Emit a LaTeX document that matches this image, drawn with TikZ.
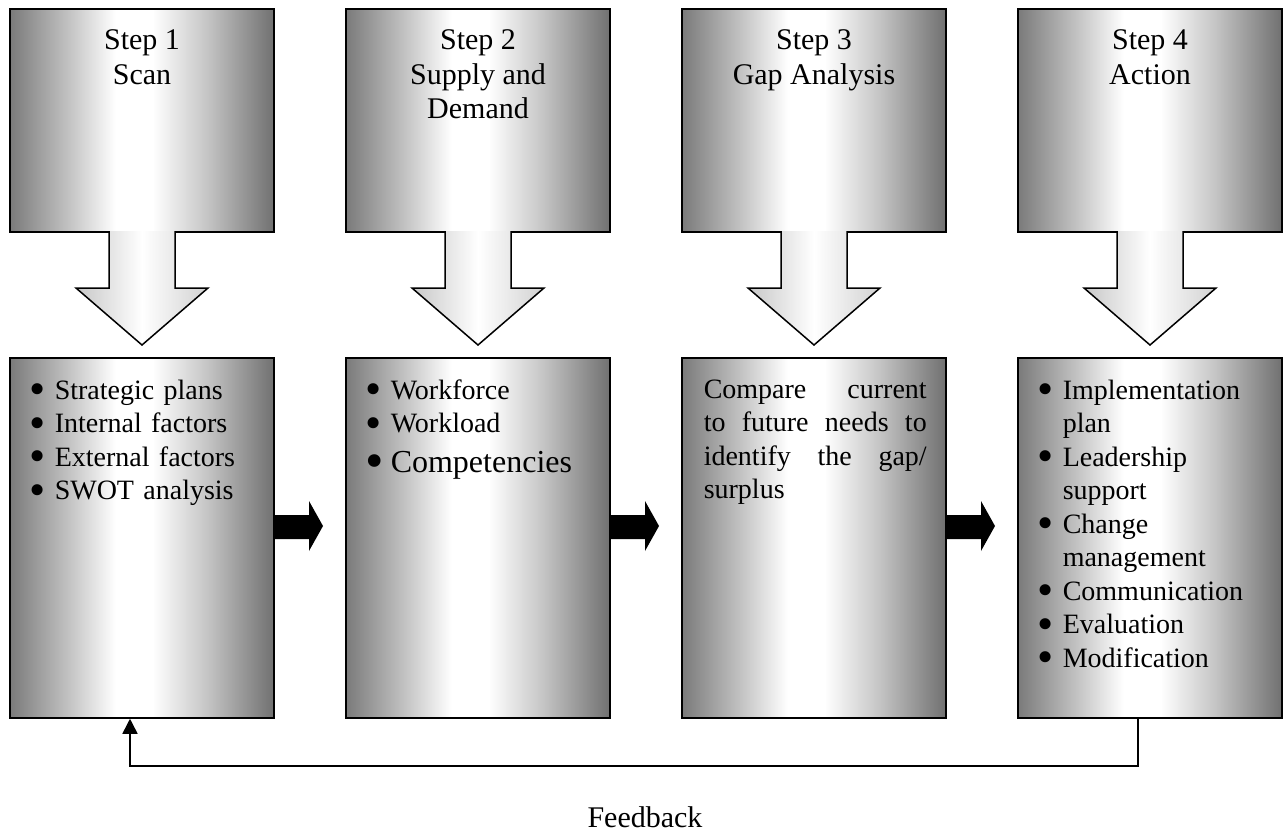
\documentclass[tikz,border=0pt]{standalone}
\usepackage{fontspec}
\usepackage{graphicx}
\setmainfont{Liberation Serif}
\usetikzlibrary{arrows.meta,calc}

% dark - light - dark metal look of the boxes
\pgfdeclarehorizontalshading{metal}{100bp}{color(0bp)=(black!52); color(25bp)=(black!52); color(36bp)=(black!24); color(45bp)=(white); color(52bp)=(white); color(62bp)=(black!22); color(75bp)=(black!56); color(100bp)=(black!56)}
\hyphenpenalty=10000
\newcommand\dotmark{\raisebox{-5.5pt}{\scalebox{1.65}{\textbullet}}}
\newcommand\bul[1]{\hangindent=24pt\hangafter=1\noindent\makebox[24pt][l]{\hspace{-1.6pt}\dotmark}#1\par}

\begin{document}
\begin{tikzpicture}[x=1pt, y=-1pt, line width=1.5pt,
  topbox/.style={draw, shading=metal, minimum width=264pt, minimum height=223pt, inner sep=0pt},
  botbox/.style={draw, shading=metal, minimum width=264pt, minimum height=360pt, inner sep=0pt},
  title/.style={anchor=north, inner sep=0pt, align=center, font=\fontsize{30}{34.5}\selectfont},
  items/.style={anchor=north west, inner sep=0pt, text width=236pt, align=left, font=\fontsize{28}{33.5}\selectfont},
  downarr/.style={draw, left color=black!22, right color=black!18, middle color=white}]
\useasboundingbox (0,0) rectangle (1288,835);

\foreach \i in {1,...,4} {
  \pgfmathsetmacro\colx{142+336*(\i-1)}
  \node[topbox] (top\i) at (\colx,120.5) {};
  \node[botbox] (bot\i) at (\colx,538) {};
  \path[downarr] (\colx-33,231) -- (\colx-33,288) -- (\colx-66,288) -- (\colx,345) -- (\colx+66,288) -- (\colx+33,288) -- (\colx+33,231);
}
\foreach \i in {0,1,2} {
  \pgfmathsetmacro\x{274+336*\i}
  \fill (\x,515) -- (\x+35,515) -- (\x+35,501) -- (\x+49,526) -- (\x+35,551) -- (\x+35,539) -- (\x,539) -- cycle;
}

\node[title] (head1) at (142,29) {Step 1\\Scan};
\node[title] (head2) at (478,29) {Step 2\\Supply and\\Demand};
\node[title] (head3) at (814,29) {Step 3\\Gap Analysis};
\node[title] (head4) at (1150,29) {Step 4\\Action};

\node[items] (list1) at (30,379) {\bul{Strategic plans}\bul{Internal factors}\bul{External factors}\bul{SWOT analysis}};
\node[items] (list2) at (366,379) {\bul{Workforce}\bul{Workload}{\fontsize{32}{40}\selectfont\bul{Competencies}}};
\node[items, text width=223pt, align=justify] (list3) at (703,379) {Compare current\linebreak to future needs to\linebreak identify the gap/\linebreak surplus};
\node[items] (list4) at (1038,379) {\bul{Implementation plan}\bul{Leadership support}\bul{Change management}\bul{Communication}\bul{Evaluation}\bul{Modification}};

% feedback loop
\coordinate (fb) at (130,766);
\draw[-{Triangle[width=15pt,length=15pt]}] ($(bot4.south)+(-12,0)$) |- (fb) -- ($(bot1.south)+(-12,0)$);
\node[anchor=base, inner sep=0pt, font=\fontsize{30}{34}\selectfont] (fbtext) at (645,827) {Feedback};
\end{tikzpicture}
\end{document}
